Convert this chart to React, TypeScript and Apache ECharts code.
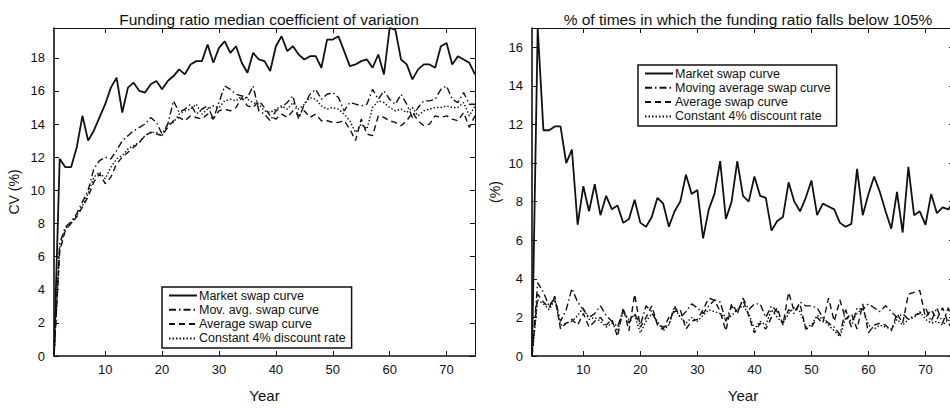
import React, { useEffect, useRef } from "react";
import * as echarts from "echarts";

const years: number[] = Array.from({ length: 75 }, (_, i) => i + 1);
const xTickLabels = [10, 20, 30, 40, 50, 60, 70];
const leftYTicks = [0, 2, 4, 6, 8, 10, 12, 14, 16, 18];
const rightYTicks = [0, 2, 4, 6, 8, 10, 12, 14, 16];

const leftTitle = "Funding ratio median coefficient of variation";
const rightTitle = "% of times in which the funding ratio falls below 105%";

const leftNames = ["Market swap curve", "Mov. avg. swap curve", "Average swap curve", "Constant 4% discount rate"];
const rightNames = ["Market swap curve", "Moving average swap curve", "Average swap curve", "Constant 4% discount rate"];

// Left panel: CV (%)
const cvMarket = [
  0, 11.9, 11.4, 11.4, 12.6, 14.5, 13.0, 13.6, 14.4, 15.2,
  16.2, 16.8, 14.7, 16.2, 16.5, 16.0, 15.9, 16.4, 16.6, 16.1,
  16.6, 16.9, 17.3, 17.0, 17.6, 17.8, 17.8, 18.8, 17.7, 18.6,
  19.0, 18.3, 18.7, 17.7, 17.1, 18.3, 17.9, 17.8, 17.2, 18.7,
  19.3, 18.4, 18.7, 18.2, 17.9, 18.1, 18.1, 17.4, 19.1, 19.1,
  19.3, 18.4, 17.5, 17.6, 17.8, 17.9, 17.4, 18.2, 17.0, 19.8,
  19.7, 17.9, 17.6, 16.7, 17.3, 17.6, 17.6, 17.4, 18.7, 18.9,
  17.6, 18.1, 17.9, 17.7, 17.0,
];
const cvMovAvg = [
  0, 6.8, 7.8, 8.1, 8.6, 9.3, 10.0, 11.3, 11.8, 12.0,
  11.9, 12.4, 13.0, 13.3, 13.6, 13.8, 14.0, 14.4, 14.1, 13.4,
  14.0, 15.4, 14.7, 14.9, 15.2, 14.6, 14.9, 15.1, 14.3, 15.3,
  16.3, 16.1, 15.8, 15.7, 15.6, 16.3, 14.8, 14.6, 14.2, 14.8,
  15.0, 15.3, 15.7, 14.3, 15.2, 15.8, 16.1, 15.5, 15.8, 15.9,
  15.6, 14.8, 15.3, 15.2, 15.1, 15.2, 16.1, 15.5, 16.0, 15.5,
  15.2, 15.8, 15.2, 14.4, 15.0, 15.4, 15.4, 15.5, 16.1, 16.3,
  15.5, 15.3, 15.9, 15.2, 15.2,
];
const cvAverage = [
  0, 6.3, 7.6, 8.0, 8.4, 9.0, 9.6, 10.5, 11.0, 10.4,
  10.8, 11.6, 12.0, 12.3, 12.6, 12.9, 13.3, 13.5, 13.4, 13.3,
  13.8, 14.2, 14.4, 14.2, 14.5, 14.4, 14.3, 14.6, 14.3, 14.8,
  14.9, 14.8, 15.0, 15.6, 15.1, 15.0, 15.4, 15.0, 14.5, 14.3,
  14.6, 14.4, 14.8, 14.5, 14.8, 14.4, 14.6, 14.2, 14.2, 14.1,
  14.1, 14.2, 13.7, 13.0, 14.3, 13.4, 13.3, 14.5, 14.4, 14.2,
  14.1, 13.9, 14.2, 14.7, 14.2, 13.9, 14.0, 14.5, 14.4, 14.5,
  14.3, 14.2, 14.7, 13.8, 14.5,
];
const cvConstant = [
  0, 6.5, 7.7, 8.0, 8.5, 9.1, 9.8, 10.8, 11.1, 10.7,
  11.4, 11.9, 12.1, 12.5, 12.7, 12.9, 13.3, 13.5, 13.5, 13.3,
  14.0, 14.1, 14.6, 14.8, 14.9, 15.2, 14.6, 14.9, 15.1, 15.0,
  15.4, 15.5, 15.4, 15.7, 15.5, 15.3, 15.2, 14.8, 14.7, 14.9,
  15.1, 14.9, 15.3, 14.9, 15.2, 15.6, 15.5, 15.1, 14.9, 15.0,
  14.9, 14.6, 14.2, 13.5, 14.0, 13.7, 15.0, 15.4, 15.3, 15.0,
  14.8, 14.9, 14.7, 15.0, 14.5, 14.8, 14.9, 15.0, 15.0, 15.1,
  15.0, 15.0, 15.3, 14.5, 15.1,
];

// Right panel: % of times funding ratio below 105%
const pctMarket = [
  0, 17.0, 11.7, 11.7, 11.9, 11.9, 10.0, 10.7, 6.8, 8.8,
  7.5, 8.9, 7.3, 8.3, 7.6, 7.8, 6.9, 7.1, 8.1, 6.9,
  6.7, 7.2, 8.2, 7.9, 6.7, 7.5, 8.0, 9.4, 8.4, 8.6,
  6.1, 7.6, 8.4, 10.1, 7.1, 8.0, 10.1, 8.3, 8.0, 9.3,
  8.3, 8.2, 6.5, 7.0, 7.2, 9.0, 8.0, 7.5, 8.2, 9.1,
  7.3, 7.9, 7.75, 7.6, 6.9, 6.7, 6.85, 9.7, 7.3, 8.4,
  9.3, 8.5, 7.5, 6.6, 8.5, 6.4, 9.8, 7.3, 7.5, 6.8,
  8.4, 7.4, 7.7, 7.6, 8.0,
];
const pctMovAvg = [
  0, 3.8, 3.3, 2.6, 3.0, 1.8, 2.4, 3.5, 2.8, 2.4,
  2.0, 2.2, 2.6, 2.1, 1.8, 1.5, 2.4, 1.7, 2.2, 1.6,
  2.6, 2.3, 1.7, 1.5, 1.6, 2.6, 2.0, 2.3, 2.7, 2.5,
  2.2, 2.6, 2.9, 2.8, 1.8, 2.6, 2.2, 3.0, 2.4, 2.7,
  2.7, 2.0, 2.6, 2.3, 1.7, 2.4, 2.2, 2.8, 2.6, 2.6,
  2.5, 2.0, 1.7, 1.5, 1.1, 2.4, 1.5, 2.5, 2.4, 2.7,
  2.5, 2.3, 2.6, 2.3, 2.0, 2.2, 1.9, 2.1, 2.2, 2.5,
  1.8, 2.5, 1.7, 2.5, 1.5,
];
const pctAverage = [
  0, 3.2, 2.8, 2.5, 3.1, 1.4, 1.7, 1.9, 1.6, 2.2,
  1.5, 1.8, 2.0, 1.6, 1.9, 1.0, 2.5, 1.3, 3.2, 1.5,
  2.0, 2.6, 1.6, 1.4, 2.0, 2.3, 2.4, 1.4, 1.8, 1.9,
  2.4, 3.0, 2.9, 2.3, 1.3, 2.7, 2.3, 2.9, 2.1, 1.2,
  1.7, 1.4, 2.0, 2.5, 1.6, 3.3, 2.3, 2.7, 1.4, 1.5,
  2.0, 1.7, 3.0, 1.8, 2.9, 1.9, 2.2, 1.4, 2.7, 1.2,
  1.6, 1.7, 1.6, 1.3, 2.2, 1.7, 3.2, 3.3, 3.4, 2.0,
  2.4, 1.9, 2.5, 1.7, 1.3,
];
const pctConstant = [
  0, 2.9, 2.7, 2.4, 2.9, 1.6, 1.7, 1.8, 2.1, 2.5,
  1.9, 2.0, 1.8, 1.5, 1.7, 1.3, 2.3, 1.9, 2.1, 1.2,
  1.8, 2.2, 1.8, 1.3, 1.6, 2.5, 2.0, 1.7, 2.0, 1.8,
  2.1, 2.4, 2.3, 2.2, 1.9, 2.1, 2.4, 2.6, 2.2, 1.4,
  1.8, 1.6, 2.4, 2.0, 1.7, 2.2, 2.5, 2.3, 1.5, 1.6,
  2.1, 1.9, 1.6, 1.3, 1.0, 2.0, 1.8, 2.2, 2.5, 1.6,
  1.4, 1.6, 1.5, 1.4, 1.9, 1.6, 1.9, 2.0, 2.3, 1.9,
  1.7, 1.8, 1.6, 1.9, 1.4,
];

const INK = "#111";
const FONT = "'Liberation Sans', Arial, Helvetica, sans-serif";

const styles: { type: any; width: number }[] = [
  { type: "solid", width: 1.8 },
  { type: [7, 3, 1.5, 3], width: 1.4 },
  { type: [6, 4], width: 1.4 },
  { type: [1.5, 2], width: 1.4 },
];

function pairs(vals: number[]) {
  return years.map((y, i) => [y, vals[i]]);
}

function App() {
  const ref = useRef<HTMLDivElement>(null);
  useEffect(() => {
    if (!ref.current) return;
    const chart = echarts.init(ref.current, null, { renderer: "svg" });

    const grids = [
      { left: 54, top: 28, width: 421, height: 332 },
      { left: 532, top: 28, width: 422, height: 331 },
    ];

    const labelStyle = { color: INK, fontSize: 13, fontFamily: FONT };

    const xAxes: any[] = [];
    const yAxes: any[] = [];
    [0, 1].forEach((g) => {
      xAxes.push({
        type: "value",
        gridIndex: g,
        position: "bottom",
        min: 1,
        max: 75,
        name: "Year",
        nameLocation: "middle",
        nameGap: 32,
        nameTextStyle: { color: INK, fontSize: 15, fontFamily: FONT },
        axisLine: { show: true, onZero: false, lineStyle: { color: INK, width: 1.6 } },
        axisTick: { show: true, inside: true, length: 5, customValues: xTickLabels, lineStyle: { color: INK } },
        axisLabel: { show: true, margin: 7, customValues: xTickLabels, ...labelStyle },
        splitLine: { show: false },
      });
      xAxes.push({
        type: "value",
        gridIndex: g,
        position: "top",
        min: 1,
        max: 75,
        axisLine: { show: true, onZero: false, lineStyle: { color: INK, width: 1 } },
        axisTick: { show: true, inside: true, length: 5, customValues: xTickLabels, lineStyle: { color: INK } },
        axisLabel: { show: false },
        splitLine: { show: false },
      });
      const ticks = g === 0 ? leftYTicks : rightYTicks;
      yAxes.push({
        type: "value",
        gridIndex: g,
        position: "left",
        min: 0,
        max: g === 0 ? 19.8 : 17,
        name: g === 0 ? "CV (%)" : "(%)",
        nameLocation: "middle",
        nameGap: g === 0 ? 33 : 30,
        nameTextStyle: { color: INK, fontSize: 14, fontFamily: FONT },
        axisLine: { show: true, onZero: false, lineStyle: { color: INK, width: 1.6 } },
        axisTick: { show: true, inside: true, length: 5, customValues: ticks, lineStyle: { color: INK } },
        axisLabel: { show: true, margin: 9, customValues: ticks, ...labelStyle },
        splitLine: { show: false },
      });
      yAxes.push({
        type: "value",
        gridIndex: g,
        position: "right",
        min: 0,
        max: g === 0 ? 19.8 : 17,
        axisLine: { show: true, onZero: false, lineStyle: { color: INK, width: 1 } },
        axisTick: { show: true, inside: true, length: 5, customValues: ticks, lineStyle: { color: INK } },
        axisLabel: { show: false },
        splitLine: { show: false },
      });
    });

    const mk = (name: string, vals: number[], idx: number, g: number) => ({
      type: "line",
      name,
      xAxisIndex: g * 2,
      yAxisIndex: g * 2,
      data: pairs(vals),
      symbol: "none",
      showSymbol: false,
      clip: true,
      lineStyle: { color: INK, width: styles[idx].width, type: styles[idx].type },
      itemStyle: { color: INK },
      z: 5 - idx,
    });

    const leftVals = [cvMarket, cvMovAvg, cvAverage, cvConstant];
    const rightVals = [pctMarket, pctMovAvg, pctAverage, pctConstant];

    const series: any[] = [];
    leftNames.forEach((n, i) => series.push(mk(n, leftVals[i], i, 0)));
    rightNames.forEach((n, i) => series.push(mk(n, rightVals[i], i, 1)));

    const legendBase = {
      orient: "vertical",
      itemWidth: 28,
      itemHeight: 12,
      itemGap: 1.3,
      padding: [2, 6, 3, 6],
      borderColor: INK,
      borderWidth: 1.5,
      borderRadius: 0,
      backgroundColor: "#fff",
      selectedMode: false,
      itemStyle: { opacity: 0 },
      textStyle: { color: INK, fontSize: 12.5, fontFamily: FONT, lineHeight: 12, padding: [0, 0, 0, -3] },
    };

    chart.setOption({
      animation: false,
      backgroundColor: "#fff",
      title: [
        {
          text: leftTitle,
          left: 264,
          top: 6,
          textAlign: "center",
          textStyle: { color: INK, fontSize: 15.5, fontWeight: "normal", fontFamily: FONT },
        },
        {
          text: rightTitle,
          left: 743,
          top: 6,
          textAlign: "center",
          textStyle: { color: INK, fontSize: 15.5, fontWeight: "normal", fontFamily: FONT },
        },
      ],
      grid: grids,
      xAxis: xAxes,
      yAxis: yAxes,
      legend: [
        { ...legendBase, data: leftNames, left: 162, top: 287 },
        { ...legendBase, data: rightNames, left: 638, top: 65 },
      ],
      series,
    });

    return () => chart.dispose();
  }, []);

  return (
    <div style={{ position: "fixed", left: 0, top: 0, width: 950, height: 408, overflow: "hidden", background: "#fff" }}>
      <div ref={ref} style={{ width: 956, height: 408 }} />
    </div>
  );
}

export default App;
